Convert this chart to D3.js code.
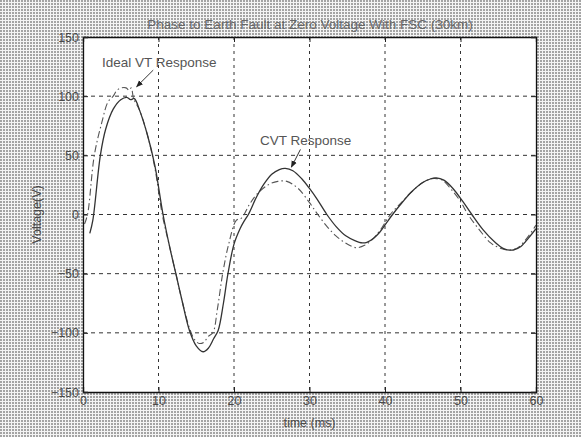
<!DOCTYPE html>
<html><head><meta charset="utf-8">
<script src="https://cdn.jsdelivr.net/npm/d3@7"></script>
<style>html,body{margin:0;padding:0;background:#fff;}svg{display:block;}</style>
</head><body>
<script>
const titleText = "Phase to Earth Fault at Zero Voltage With FSC (30km)";
const xLabel = "time (ms)";
const yLabel = "Voltage(V)";
const xTicks = [0, 10, 20, 30, 40, 50, 60];
const yTicks = [-150, -100, -50, 0, 50, 100, 150];

// CVT response (solid)
const cvtT = [0.9,1.3,2.3,3.0,4.0,5.0,5.8,6.3,6.8,7.5,8.5,9.5,10.6,11.5,12.3,13.2,14.1,15.0,15.9,16.6,17.3,17.9,18.6,19.2,20.0,20.8,21.3,21.9,23.0,24.0,25.0,26.0,26.8,27.8,29.0,30.0,31.0,32.3,33.5,34.8,36.0,37.0,37.6,38.5,39.3,40.2,41.0,42.0,43.5,45.0,46.0,46.8,47.8,49.0,50.3,51.5,53.0,54.5,55.8,57.0,58.0,59.0,60.0];
const cvtV = [-16,-5,50,72,89,97,99,97,98,88,68,42,0,-28,-50,-75,-98,-111,-116,-113,-105,-98,-75,-50,-25,-12,-6,0,15,26,34,38,39,37,30,22,13,0,-10,-18,-22,-24,-23.5,-20,-15,-7,0,8,19,27,30,31,29,22,11,0,-13,-23,-29,-30,-27,-20,-12];

// Ideal VT response (dash-dot)
const vtT = [0.2,0.6,1.5,2.5,3.3,4.0,4.5,5.1,5.7,6.1,6.4,6.7,7.5,8.5,9.5,10.5,11.5,12.3,13.2,14.1,14.8,15.4,16.0,16.6,17.2,17.8,18.5,19.3,20.3,21.0,22.0,23.0,24.5,25.8,27.0,28.5,30.0,31.1,32.3,33.5,35.0,36.2,37.3,38.5,39.5,40.7,42.0,43.5,45.0,46.0,46.6,47.6,48.8,50.0,51.0,52.5,54.0,55.5,56.6,57.6,58.8,60.0];
const vtV = [-8,0,50,78,95,100,105,107,107,105,107,98,88,68,40,0,-28,-50,-75,-96,-106,-109,-108,-103,-100,-80,-50,-25,-5,-3,8,17,25,28,28,22,10,0,-10,-18,-25,-28,-26,-20,-12,0,9,19,27,30,30.5,29,21,11,0,-13,-24,-29,-30,-28,-20,-9];

const annotations = [
  {text: "Ideal VT Response", tx: 102, ty: 62, from: [9.3, 122], to: [7.1, 108]},
  {text: "CVT Response", tx: 260, ty: 140, from: [28.8, 55], to: [27.6, 40]}
];

const W = 581, H = 437;
const L = 83, R = 536, T = 37, B = 392;

const svg = d3.select("body").append("svg").attr("width", W).attr("height", H);
const defs = svg.append("defs");
const pat = defs.append("pattern").attr("id","dither").attr("width",3).attr("height",3).attr("patternUnits","userSpaceOnUse");
pat.append("rect").attr("width",3).attr("height",3).attr("fill","#f4f4f4");
pat.append("rect").attr("width",2).attr("height",2).attr("fill","#a4a4a4");
defs.append("marker").attr("id","arr").attr("viewBox","0 0 10 10").attr("refX",9).attr("refY",5)
  .attr("markerWidth",7).attr("markerHeight",7).attr("orient","auto")
  .append("path").attr("d","M0,1 L10,5 L0,9 z").attr("fill","#222");

svg.append("rect").attr("width",W).attr("height",H).attr("fill","url(#dither)");

const x = d3.scaleLinear().domain([0,60]).range([L,R]);
const y = d3.scaleLinear().domain([-150,150]).range([B,T]);

svg.append("rect").attr("x",L).attr("y",T).attr("width",R-L).attr("height",B-T).attr("fill","#fff");

// grid
const g = svg.append("g");
g.selectAll(".gx").data(xTicks.slice(1,-1)).join("line")
  .attr("x1",d=>x(d)).attr("x2",d=>x(d)).attr("y1",T).attr("y2",B)
  .attr("stroke","#333").attr("stroke-width",1).attr("stroke-dasharray","3,4");
g.selectAll(".gy").data(yTicks.slice(1,-1)).join("line")
  .attr("x1",L).attr("x2",R).attr("y1",d=>y(d)).attr("y2",d=>y(d))
  .attr("stroke","#333").attr("stroke-width",1).attr("stroke-dasharray","4,4");

// axes
const fontFam = "'Liberation Sans', Arial, sans-serif";
const xAxis = svg.append("g").attr("transform",`translate(0,${B})`)
  .call(d3.axisBottom(x).tickValues(xTicks).tickSize(-5).tickPadding(5).tickFormat(d3.format("d")));
const xAxisTop = svg.append("g").attr("transform",`translate(0,${T})`)
  .call(d3.axisTop(x).tickValues(xTicks).tickSize(-5).tickFormat(""));
const yAxis = svg.append("g").attr("transform",`translate(${L},0)`)
  .call(d3.axisLeft(y).tickValues(yTicks).tickSize(-5).tickPadding(4).tickFormat(d3.format("d")));
const yAxisR = svg.append("g").attr("transform",`translate(${R},0)`)
  .call(d3.axisRight(y).tickValues(yTicks).tickSize(-5).tickFormat(""));
[xAxis,xAxisTop,yAxis,yAxisR].forEach(a=>{
  a.select(".domain").attr("stroke","#111").attr("stroke-width",1.3);
  a.selectAll(".tick line").attr("stroke","#222");
  a.selectAll("text").attr("font-family",fontFam).attr("font-size",12.5).attr("fill","#4a4a4a");
});
xAxis.selectAll("text").attr("dy","0.6em");

// curves
const line = d3.line().x(d=>x(d[0])).y(d=>y(d[1])).curve(d3.curveCatmullRom);
const cvt = cvtT.map((t,i)=>[t,cvtV[i]]);
const vt = vtT.map((t,i)=>[t,vtV[i]]);
const clip = defs.append("clipPath").attr("id","clp");
clip.append("rect").attr("x",L).attr("y",T).attr("width",R-L).attr("height",B-T);
const cg = svg.append("g").attr("clip-path","url(#clp)");
cg.append("path").datum(vt).attr("d",line).attr("fill","none").attr("stroke","#555")
  .attr("stroke-width",1.1).attr("stroke-dasharray","7,3,1.5,3");
cg.append("path").datum(cvt).attr("d",line).attr("fill","none").attr("stroke","#333")
  .attr("stroke-width",1.3);

// annotations
annotations.forEach(a=>{
  svg.append("text").attr("x",a.tx).attr("y",a.ty).attr("dy","0.35em")
    .attr("font-family",fontFam).attr("font-size",13.5).attr("fill","#555").text(a.text);
  svg.append("line").attr("x1",x(a.from[0])).attr("y1",y(a.from[1]))
    .attr("x2",x(a.to[0])).attr("y2",y(a.to[1]))
    .attr("stroke","#333").attr("stroke-width",1).attr("marker-end","url(#arr)");
});

// title and labels
svg.append("text").attr("x",310).attr("y",24).attr("dy","0.35em").attr("text-anchor","middle")
  .attr("font-family",fontFam).attr("font-size",13.5).attr("fill","#666").text(titleText);
svg.append("text").attr("x",(L+R)/2).attr("y",423).attr("dy","0.35em").attr("text-anchor","middle")
  .attr("font-family",fontFam).attr("font-size",12.5).attr("fill","#4a4a4a").text(xLabel);
svg.append("text").attr("transform",`translate(37,${(T+B)/2}) rotate(-90)`).attr("dy","0.35em")
  .attr("text-anchor","middle").attr("font-family",fontFam).attr("font-size",12.5).attr("fill","#4a4a4a").text(yLabel);
</script>
</body></html>
